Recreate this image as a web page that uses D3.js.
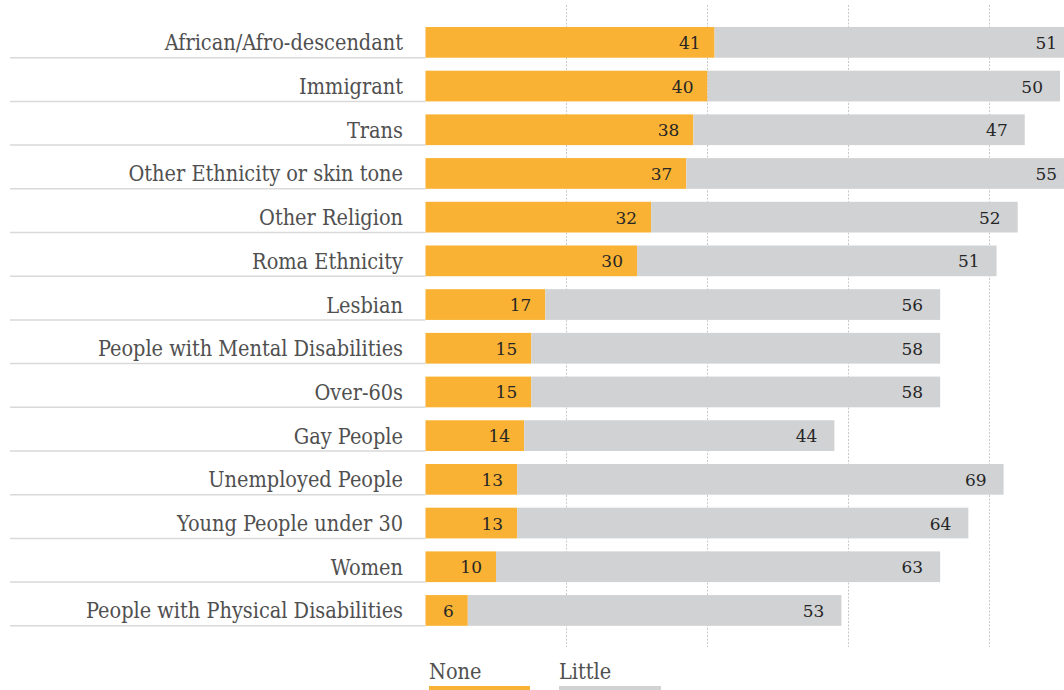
<!DOCTYPE html>
<html>
<head>
<meta charset="utf-8">
<script src="https://cdn.jsdelivr.net/npm/d3@7"></script>
<style>
  html, body { margin: 0; padding: 0; background: #fff; }
  svg { display: block; }
  .cat { font-family: "DejaVu Serif", serif; font-stretch: condensed; font-size: 21.5px; fill: #505050; }
  .val { font-family: "DejaVu Serif", serif; font-size: 17px; fill: #262626; }
</style>
</head>
<body>
<svg id="chart" width="1064" height="690"></svg>
<script>
// Share of respondents per group
const categories = [
  "African/Afro-descendant",
  "Immigrant",
  "Trans",
  "Other Ethnicity or skin tone",
  "Other Religion",
  "Roma Ethnicity",
  "Lesbian",
  "People with Mental Disabilities",
  "Over-60s",
  "Gay People",
  "Unemployed People",
  "Young People under 30",
  "Women",
  "People with Physical Disabilities"
];
const noneValues   = [41, 40, 38, 37, 32, 30, 17, 15, 15, 14, 13, 13, 10, 6];
const littleValues = [51, 50, 47, 55, 52, 51, 56, 58, 58, 44, 69, 64, 63, 53];
const gridTicks = [20, 40, 60, 80];
const seriesNames = ["None", "Little"];
const colors = { none: "#F9B233", little: "#D1D2D4" };

const W = 1064, H = 690;
const svg = d3.select("#chart");

const x = d3.scaleLinear().domain([0, 100]).range([425.5, 425.5 + 705]);
const y = d3.scaleBand().domain(categories).range([27, 625.8]).paddingInner(0.297).paddingOuter(0);

const rows = categories.map((c, i) => ({ cat: c, none: noneValues[i], little: littleValues[i] }));

// dotted vertical gridlines
svg.append("g").selectAll("line").data(gridTicks).join("line")
  .attr("x1", d => x(d)).attr("x2", d => x(d))
  .attr("y1", 5).attr("y2", 647)
  .attr("stroke", "#c9c9c9").attr("stroke-width", 1)
  .attr("stroke-dasharray", "2,1.5");

// separator rules under the category labels
svg.append("g").selectAll("line").data(rows).join("line")
  .attr("x1", 10).attr("x2", x(0))
  .attr("y1", d => y(d.cat) + y.bandwidth()).attr("y2", d => y(d.cat) + y.bandwidth())
  .attr("stroke", "#d9d9d9").attr("stroke-width", 1.5);

// stacked bars
const g = svg.append("g");
g.selectAll("rect.none").data(rows).join("rect").attr("class", "none")
  .attr("x", x(0)).attr("y", d => y(d.cat))
  .attr("width", d => x(d.none) - x(0)).attr("height", y.bandwidth())
  .attr("fill", colors.none);
g.selectAll("rect.little").data(rows).join("rect").attr("class", "little")
  .attr("x", d => x(d.none)).attr("y", d => y(d.cat))
  .attr("width", d => x(d.none + d.little) - x(d.none)).attr("height", y.bandwidth())
  .attr("fill", colors.little);

// category labels
svg.append("g").selectAll("text").data(rows).join("text").attr("class", "cat")
  .attr("x", 403).attr("y", d => y(d.cat) + y.bandwidth() / 2 + 8)
  .attr("text-anchor", "end").text(d => d.cat);

// value labels
svg.append("g").selectAll("text").data(rows).join("text").attr("class", "val")
  .attr("x", d => x(d.none) - 14).attr("y", d => y(d.cat) + y.bandwidth() / 2 + 6.5)
  .attr("text-anchor", "end").text(d => d.none);
svg.append("g").selectAll("text").data(rows).join("text").attr("class", "val")
  .attr("x", d => Math.min(x(d.none + d.little) - 17, W - 5))
  .attr("y", d => y(d.cat) + y.bandwidth() / 2 + 6.5)
  .attr("text-anchor", "end").text(d => d.little);

// legend
const legend = svg.append("g");
const legendItems = [
  { name: seriesNames[0], color: colors.none, x0: 429, x1: 530 },
  { name: seriesNames[1], color: colors.little, x0: 559, x1: 661 }
];
legend.selectAll("text").data(legendItems).join("text").attr("class", "cat")
  .attr("x", d => d.x0).attr("y", 679).text(d => d.name);
legend.selectAll("rect").data(legendItems).join("rect")
  .attr("x", d => d.x0).attr("y", 686)
  .attr("width", d => d.x1 - d.x0).attr("height", 6)
  .attr("fill", d => d.color);
</script>
</body>
</html>
